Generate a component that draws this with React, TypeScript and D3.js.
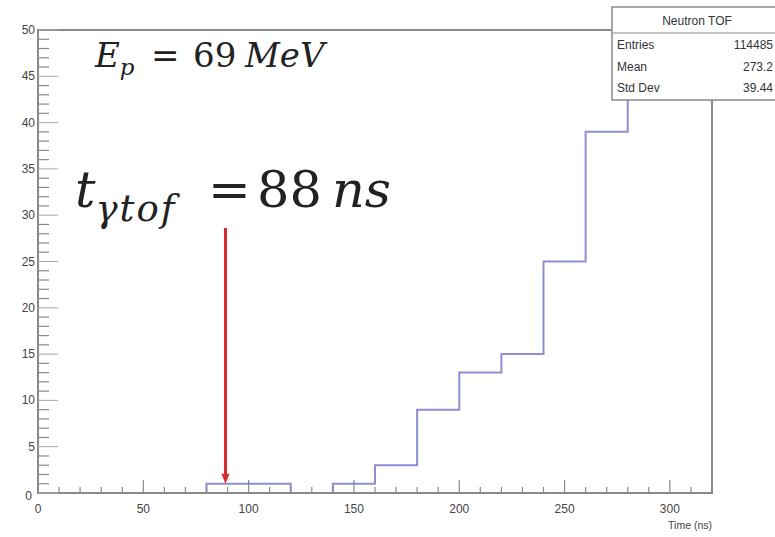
import * as d3 from 'd3';

// histogram: 20 ns bins from 0 to 320 ns (last two bins are off-scale, hidden behind the stats box)
const binEdges = [0, 20, 40, 60, 80, 100, 120, 140, 160, 180, 200, 220, 240, 260, 280, 300, 320];
const counts = [0, 0, 0, 0, 1, 1, 0, 1, 3, 9, 13, 15, 25, 39, 120, 300];

const xMajor = [0, 50, 100, 150, 200, 250, 300];
const yMajor = [0, 5, 10, 15, 20, 25, 30, 35, 40, 45, 50];

const statsTitle = 'Neutron TOF';
const statsRows = [
  ['Entries', '114485'],
  ['Mean', '273.2'],
  ['Std Dev', '39.44'],
];

const arrowAt = 89;

export default function App() {
  const W = 775, H = 537;
  const frame = { left: 38, right: 712, top: 30, bottom: 493 };

  const x = d3.scaleLinear().domain([0, 320]).range([frame.left, frame.right]);
  const y = d3.scaleLinear().domain([0, 50]).range([frame.bottom, frame.top]);

  const xMinor = d3.range(0, 321, 10).filter(v => v % 50 !== 0);
  const yMinor = d3.range(0, 51, 1).filter(v => v % 5 !== 0);

  const pts: [number, number][] = counts.map((c, i) => [binEdges[i], c]);
  pts.push([binEdges[binEdges.length - 1], counts[counts.length - 1]]);
  const histPath = d3.line<[number, number]>()
    .x(d => x(d[0]))
    .y(d => y(Math.min(d[1], 50)))
    .curve(d3.curveStepAfter)(pts) || '';

  const axisColor = '#8a8a8a';
  const labelColor = '#444';
  const sans = "'Liberation Sans', Arial, sans-serif";
  const serif = "'DejaVu Serif', serif";

  return (
    <svg width={W} height={H} style={{ position: 'absolute', left: 0, top: 0, background: '#fff' }}>
      <defs>
        <clipPath id="frameClip">
          <rect x={frame.left} y={frame.top} width={frame.right - frame.left} height={frame.bottom - frame.top} />
        </clipPath>
      </defs>

      {/* histogram */}
      <path d={histPath} fill="none" stroke="#8e8ed2" strokeWidth={2} clipPath="url(#frameClip)" />

      {/* frame */}
      <rect x={frame.left} y={frame.top} width={frame.right - frame.left} height={frame.bottom - frame.top}
        fill="none" stroke={axisColor} strokeWidth={2} />

      {/* x ticks */}
      {xMajor.map(v => (
        <line key={'xM' + v} x1={x(v)} x2={x(v)} y1={frame.bottom} y2={frame.bottom - 13} stroke={axisColor} strokeWidth={1.2} />
      ))}
      {xMinor.map(v => (
        <line key={'xm' + v} x1={x(v)} x2={x(v)} y1={frame.bottom} y2={frame.bottom - 6} stroke={axisColor} strokeWidth={1.2} />
      ))}
      {xMajor.map(v => (
        <text key={'xl' + v} x={x(v)} y={frame.bottom + 20} textAnchor="middle"
          fontFamily={sans} fontSize={12} fill={labelColor}>{v}</text>
      ))}
      <text x={frame.right} y={frame.bottom + 36} textAnchor="end"
        fontFamily={sans} fontSize={10.5} fill={labelColor}>Time (ns)</text>

      {/* y ticks */}
      {yMajor.map(v => (
        <line key={'yM' + v} x1={frame.left} x2={frame.left + 20} y1={y(v)} y2={y(v)} stroke="#a8a8a8" strokeWidth={1} />
      ))}
      {yMinor.map(v => (
        <line key={'ym' + v} x1={frame.left} x2={frame.left + 11} y1={y(v)} y2={y(v)} stroke={axisColor} strokeWidth={1.2} />
      ))}
      {yMajor.map(v => (
        <text key={'yl' + v} x={v === 0 ? frame.left - 6 : frame.left - 3} y={v === 0 ? y(v) + 7 : y(v) + 4} textAnchor="end"
          fontFamily={sans} fontSize={12} fill={labelColor}>{v}</text>
      ))}

      {/* annotations */}
      <text y={67} fontFamily={serif} fontSize={34} fill="#222">
        <tspan x={95} fontStyle="italic">E</tspan>
        <tspan fontStyle="italic" fontSize={23} dy={8}>p</tspan>
        <tspan x={151} dy={-8}>=</tspan>
        <tspan x={193}>69</tspan>
        <tspan x={245} fontStyle="italic">MeV</tspan>
      </text>
      <text y={207} fontFamily={serif} fontSize={51} fill="#222">
        <tspan x={75} fontStyle="italic">t</tspan>
        <tspan fontStyle="italic" fontSize={37} dy={14} letterSpacing={2}>γtof</tspan>
        <tspan x={208} dy={-14}>=</tspan>
        <tspan x={257}>88</tspan>
        <tspan x={332} fontStyle="italic">ns</tspan>
      </text>

      {/* red arrow */}
      <line x1={x(arrowAt)} x2={x(arrowAt)} y1={228} y2={y(1) - 8} stroke="#d42a2a" strokeWidth={3} />
      <path d={`M${x(arrowAt) - 4},${y(1) - 10} L${x(arrowAt) + 4},${y(1) - 10} L${x(arrowAt)},${y(1)} Z`} fill="#d42a2a" />

      {/* stats box */}
      <rect x={612} y={7} width={200} height={93} fill="#fff" stroke={axisColor} strokeWidth={1.5} />
      <line x1={612} x2={775} y1={33} y2={33} stroke={axisColor} strokeWidth={1.2} />
      <text x={697} y={25} textAnchor="middle" fontFamily={sans} fontSize={12} fill="#333">{statsTitle}</text>
      {statsRows.map((r, i) => (
        <g key={r[0]}>
          <text x={617} y={49 + i * 21.5} fontFamily={sans} fontSize={12} fill="#333">{r[0]}</text>
          <text x={773} y={49 + i * 21.5} textAnchor="end" fontFamily={sans} fontSize={12} fill="#333">{r[1]}</text>
        </g>
      ))}
    </svg>
  );
}
